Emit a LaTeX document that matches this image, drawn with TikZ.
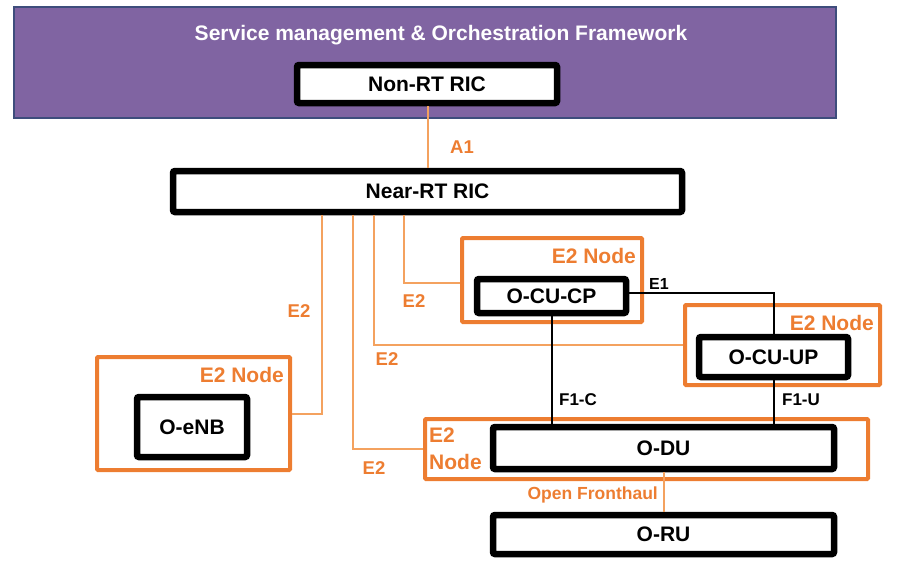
\documentclass[tikz,border=0pt]{standalone}
\usepackage{fontspec}
\setmainfont{Liberation Sans}
\usetikzlibrary{positioning,calc}

\definecolor{smopurple}{HTML}{8064A2}
\definecolor{smoedge}{HTML}{3E4D7C}
\definecolor{oranorange}{HTML}{ED7D31}
\definecolor{oranlight}{HTML}{F4A25F}

\tikzset{
  blackbox/.style={draw=black, line width=6.5pt, fill=white, rounded corners=2pt,
    font=\fontsize{21}{25}\selectfont\bfseries},
  e2box/.style={draw=oranorange, line width=4pt, rounded corners=1pt},
  e2line/.style={draw=oranlight, line width=2pt},
  ifline/.style={draw=black, line width=2pt},
  e2text/.style={text=oranorange, inner sep=0pt, font=\fontsize{18.5}{22}\selectfont\bfseries},
  nodetext/.style={text=oranorange, inner sep=0pt, font=\fontsize{21}{27}\selectfont\bfseries},
  iftext/.style={text=black, inner sep=0pt, font=\fontsize{17}{20}\selectfont\bfseries}
}

\begin{document}
\begin{tikzpicture}[x=1pt, y=-1pt]
    \useasboundingbox (0,0) rectangle (901,570);

    % SMO framework
    \node[draw=smoedge, line width=1.2pt, fill=smopurple, minimum width=822pt, minimum height=111pt] (smo) at (425,62.5) {};
    \node[text=white, font=\fontsize{21}{25}\selectfont\bfseries] (smotitle) at (441,35) {Service management \& Orchestration Framework};
    \node[blackbox, minimum width=260pt, minimum height=38pt] (nonrt) at (427,84) {Non-RT RIC};

    % Near-RT RIC
    \node[blackbox, minimum width=509pt, minimum height=41pt] (nearrt) at (427.5,191.5) {Near-RT RIC};
    \draw[e2line] (nonrt.south -| 428,0) -- (nearrt.north -| 428,0);
    \node[e2text] (lbla1) at (462,147) {A1};

    % E2 nodes
    \node[e2box, minimum width=180pt, minimum height=84pt] (cpnode) at (552,280) {};
    \node[e2box, minimum width=195pt, minimum height=80pt] (upnode) at (782.5,345) {};
    \node[e2box, minimum width=443pt, minimum height=60pt] (dunode) at (646.5,449) {};
    \node[e2box, minimum width=193pt, minimum height=113pt] (enbnode) at (193.5,413.5) {};
    \node[nodetext, anchor=east] (lblcp) at (636,256) {E2 Node};
    \node[nodetext, anchor=east] (lblup) at (874,323) {E2 Node};
    \node[nodetext, anchor=east] (lblenb) at (284,375) {E2 Node};
    \node[nodetext, anchor=west, align=left] (lbldu) at (429,449) {E2\\Node};

    % RAN functions
    \node[blackbox, minimum width=149pt, minimum height=34pt] (cucp) at (551.5,296) {O-CU-CP};
    \node[blackbox, minimum width=149pt, minimum height=40pt] (cuup) at (773.5,357) {O-CU-UP};
    \node[blackbox, minimum width=341pt, minimum height=42pt] (odu) at (663.5,448) {O-DU};
    \node[blackbox, minimum width=341pt, minimum height=39pt] (oru) at (663.5,534.5) {O-RU};
    \node[blackbox, minimum width=110pt, minimum height=60pt] (oenb) at (192,427) {O-eNB};

    % E2 links
    \draw[e2line] (nearrt.south -| 322,0) |- (enbnode.east);
    \draw[e2line] (nearrt.south -| 353,0) |- (dunode.west);
    \draw[e2line] (nearrt.south -| 374,0) |- (upnode.west);
    \draw[e2line] (nearrt.south -| 404,0) |- ($(cpnode.west)+(0,3)$);
    \node[e2text] (lble2a) at (299,311) {E2};
    \node[e2text] (lble2b) at (414,301) {E2};
    \node[e2text] (lble2c) at (387,359) {E2};
    \node[e2text] (lble2d) at (374,468) {E2};

    % E1, F1 and fronthaul
    \draw[ifline] ($(cucp.east)+(0,-3)$) -| (cuup.north);
    \draw[ifline] (cucp.south -| 552,0) -- (odu.north -| 552,0);
    \draw[ifline] (cuup.south) -- (cuup.south |- odu.north);
    \draw[e2line] (odu.south) -- (oru.north);
    \node[iftext, font=\fontsize{16}{19}\selectfont\bfseries] (lble1) at (659,284) {E1};
    \node[iftext] (lblf1c) at (578,400) {F1-C};
    \node[iftext] (lblf1u) at (801,400) {F1-U};
    \node[text=oranorange, inner sep=0pt, anchor=east, font=\fontsize{17.5}{20}\selectfont\bfseries] (lblofh) at (658,495) {Open Fronthaul};
\end{tikzpicture}
\end{document}
